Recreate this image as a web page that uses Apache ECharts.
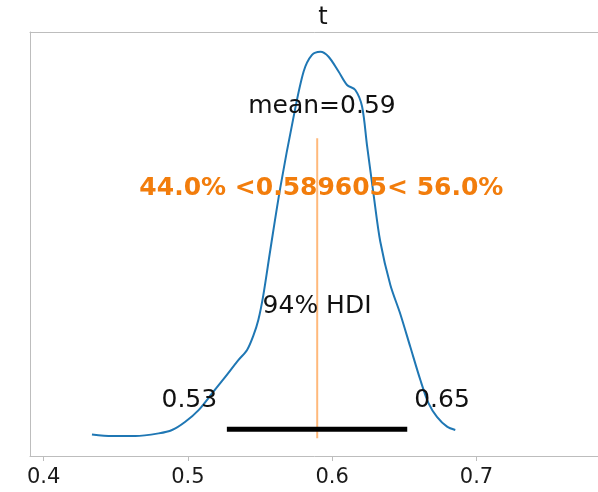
<!DOCTYPE html>
<html>
<head>
<meta charset="utf-8">
<script src="https://cdn.jsdelivr.net/npm/echarts@6/dist/echarts.min.js"></script>
<style>
  html, body { margin: 0; padding: 0; background: #fff; }
  #chart { width: 598px; height: 492px; }
</style>
</head>
<body>
<div id="chart"></div>
<script>
// Posterior of parameter t: kernel density estimate
const kdeX = [0.4335, 0.4474, 0.4636, 0.4797, 0.4890, 0.4982, 0.5074, 0.5167, 0.5259,
  0.5351, 0.5410, 0.5453, 0.5488, 0.5523, 0.5571, 0.5640, 0.5731, 0.5802, 0.5860,
  0.5918, 0.5975, 0.6044, 0.6103, 0.6160, 0.6207, 0.6241, 0.6287, 0.6333, 0.6403,
  0.6472, 0.6541, 0.6611, 0.6668, 0.6726, 0.6796, 0.6853];
const kdeY = [0.11, 0.065, 0.065, 0.14, 0.235, 0.47, 0.80, 1.27, 1.74,
  2.22, 2.50, 2.90, 3.35, 4.06, 5.33, 7.09, 9.07, 10.38, 10.85,
  10.94, 10.80, 10.38, 10.00, 9.86, 9.39, 8.30, 6.89, 5.57, 4.34,
  3.52, 2.59, 1.65, 0.99, 0.61, 0.33, 0.235];

// Summary statistics
const meanVal = 0.589605;
const refVal = 0.589605;
const pctBelow = 44.0;
const pctAbove = 56.0;
const hdiProb = 94;
const hdiLow = 0.527;
const hdiHigh = 0.652;
const hdiBarY = 0.26;
const refLineTop = 8.49;

// Axis tick labels
const xTicks = [0.4, 0.5, 0.6, 0.7];

const chart = echarts.init(document.getElementById('chart'));
const FONT = 'DejaVu Sans';
const SPINE = '#bdbdbd';

const textData = [
  { value: [0.5929, 9.39], text: 'mean=' + meanVal.toFixed(2), color: '#111', bold: false },
  { value: [0.5925, 7.08], text: pctBelow.toFixed(1) + '% <' + refVal + '< ' + pctAbove.toFixed(1) + '%', color: '#f27d0c', bold: true },
  { value: [0.5895, 3.72], text: hdiProb + '% HDI', color: '#111', bold: false },
  { value: [0.5010, 1.08], text: hdiLow.toFixed(2), color: '#111', bold: false },
  { value: [0.6761, 1.08], text: hdiHigh.toFixed(2), color: '#111', bold: false }
];

const X_MIN = 0.39057;
const X_MAX = 0.78974;

chart.setOption({
  animation: false,
  backgroundColor: '#fff',
  title: {
    text: 't',
    left: 318,
    textAlign: 'center',
    top: 1,
    textStyle: { fontFamily: FONT, fontSize: 24, fontWeight: 'normal', color: '#111' }
  },
  grid: {
    left: 30, top: 32, width: 576, height: 424,
    outerBoundsMode: 'none',
    containLabel: false,
    show: false
  },
  xAxis: [
    {
      type: 'value',
      min: X_MIN,
      max: X_MAX,
      axisLine: { show: true, onZero: false, lineStyle: { color: SPINE, width: 1 } },
      axisTick: { show: true, customValues: xTicks, length: 5, lineStyle: { color: SPINE } },
      axisLabel: {
        customValues: xTicks,
        margin: 11,
        fontFamily: FONT, fontSize: 21, color: '#1a1a1a',
        formatter: v => String(v)
      },
      splitLine: { show: false }
    },
    {
      // top spine
      type: 'value',
      position: 'top',
      min: X_MIN,
      max: X_MAX,
      axisLine: { show: true, onZero: false, lineStyle: { color: SPINE, width: 1 } },
      axisTick: { show: false },
      axisLabel: { show: false },
      splitLine: { show: false }
    }
  ],
  yAxis: {
    type: 'value',
    min: -0.5,
    max: 11.5,
    axisLine: { show: true, onZero: false, lineStyle: { color: SPINE, width: 1 } },
    axisTick: { show: false },
    axisLabel: { show: false },
    splitLine: { show: false }
  },
  series: [
    {
      type: 'line',
      data: [[refVal, 0], [refVal, refLineTop]],
      showSymbol: false,
      lineStyle: { color: 'rgba(255,127,14,0.55)', width: 2 },
      z: 2
    },
    {
      type: 'line',
      data: kdeX.map((x, i) => [x, kdeY[i]]),
      smooth: 0.3,
      showSymbol: false,
      lineStyle: { color: '#1f77b4', width: 2 },
      z: 3
    },
    {
      type: 'line',
      data: [[hdiLow, hdiBarY], [hdiHigh, hdiBarY]],
      showSymbol: false,
      lineStyle: { color: '#000', width: 5, cap: 'butt' },
      z: 4
    },
    {
      type: 'scatter',
      symbolSize: 0,
      z: 5,
      itemStyle: { color: 'transparent' },
      data: textData.map(d => ({
        value: d.value,
        text: d.text,
        label: { color: d.color, fontWeight: d.bold ? 'bold' : 'normal' }
      })),
      label: {
        show: true,
        position: 'inside',
        fontFamily: FONT,
        fontSize: 25,
        textBorderWidth: 0,
        textBorderColor: 'transparent',
        opacity: 1,
        formatter: p => p.data.text
      }
    }
  ]
});
</script>
</body>
</html>
